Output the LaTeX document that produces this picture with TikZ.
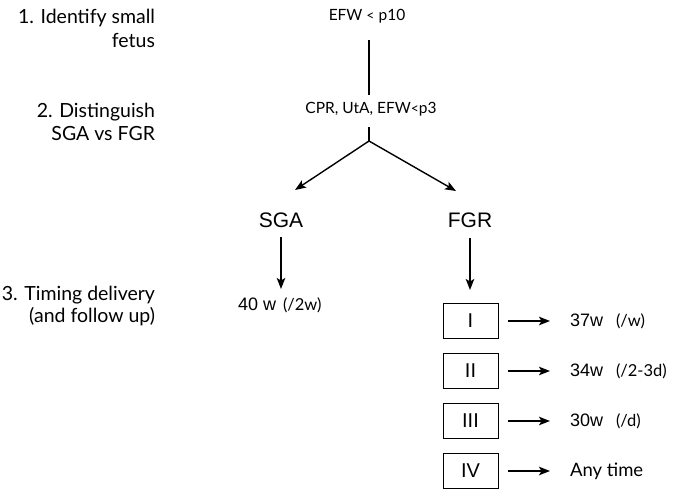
\documentclass[tikz,border=0pt]{standalone}
\usepackage{fontspec}
\setmainfont{Lato}
\newfontfamily\helv{Liberation Sans}
\usetikzlibrary{arrows.meta}
\begin{document}
\begin{tikzpicture}[x=1pt,y=-1pt,
  every node/.style={inner sep=0pt, outer sep=0pt, text=black},
  steptxt/.style={font=\fontsize{19.5}{21}\selectfont, anchor=base east},
  crit/.style={font=\fontsize{15.5}{17}\selectfont, anchor=base},
  grp/.style={font=\helv\fontsize{21}{24}\selectfont, anchor=base},
  stagebox/.style={draw, line width=0.8pt, minimum width=55pt, minimum height=35pt, font=\helv\fontsize{20}{22}\selectfont},
  conn/.style={line width=1.4pt},
  arr/.style={line width=1.4pt, -{Stealth[length=11pt,width=8.5pt,inset=2.5pt]}}
]
\useasboundingbox (0,0) rectangle (676,490);
% step labels
\node[steptxt] (s1a) at (155,23) {1. Identify small};
\node[steptxt] (s1b) at (155,47) {fetus};
\node[steptxt] (s2a) at (155,117) {2. Distinguish};
\node[steptxt] (s2b) at (155,140) {SGA vs FGR};
\node[steptxt] (s3a) at (155,300) {3. Timing delivery};
\node[steptxt] (s3b) at (155,322) {(and follow up)};
% criteria
\node[crit] (efw) at (367,20) {EFW {\fontsize{14}{15}\selectfont<} p10};
\node[crit] (cpr) at (371,113) {CPR, UtA, EFW{\fontsize{14}{15}\selectfont<}p3};
\coordinate (v1) at (369,40);
\coordinate (v2) at (369,95);
\coordinate (v3) at (369,127);
\coordinate (br) at (369,141);
\coordinate (tipS) at (295,190);
\coordinate (tipF) at (456,191);
\draw[conn] (v1) -- (v2);
\draw[conn] (v3) -- (br);
\draw[arr] (br) -- (tipS);
\draw[arr] (br) -- (tipF);
% groups
\node[grp] (sga) at (281,227) {SGA};
\node[grp] (fgr) at (470,227) {FGR};
\coordinate (sgaA) at (281,237);
\coordinate (sgaB) at (281,289);
\coordinate (fgrA) at (470,238);
\coordinate (fgrB) at (470,290);
\draw[arr] (sgaA) -- (sgaB);
\draw[arr] (fgrA) -- (fgrB);
\node[anchor=base west] (sgat) at (238,310) {\makebox[45pt][l]{\helv\fontsize{18}{19}\selectfont 40 w}{\fontsize{16.5}{18}\selectfont(/2w)}};
% stages
\node[stagebox] (b1) at (470.5,321) {I};
\node[stagebox] (b2) at (470.5,371) {II};
\node[stagebox] (b3) at (470.5,421) {III};
\node[stagebox] (b4) at (470.5,471) {IV};
\node[anchor=base west] (t1) at (570,326) {\makebox[46pt][l]{\helv\fontsize{18}{19}\selectfont 37w}{\fontsize{16.5}{18}\selectfont(/w)}};
\node[anchor=base west] (t2) at (570,376) {\makebox[46pt][l]{\helv\fontsize{18}{19}\selectfont 34w}{\fontsize{16.5}{18}\selectfont(/2-3d)}};
\node[anchor=base west] (t3) at (570,426) {\makebox[46pt][l]{\helv\fontsize{18}{19}\selectfont 30w}{\fontsize{16.5}{18}\selectfont(/d)}};
\node[anchor=base west, font=\fontsize{18.5}{20}\selectfont] (t4) at (570,476) {Any time};
\foreach \i in {1,2,3,4}{
  \draw[arr] ([xshift=10pt]b\i.east) -- ([xshift=-20pt]t\i.west |- b\i.east);
}
\end{tikzpicture}
\end{document}
